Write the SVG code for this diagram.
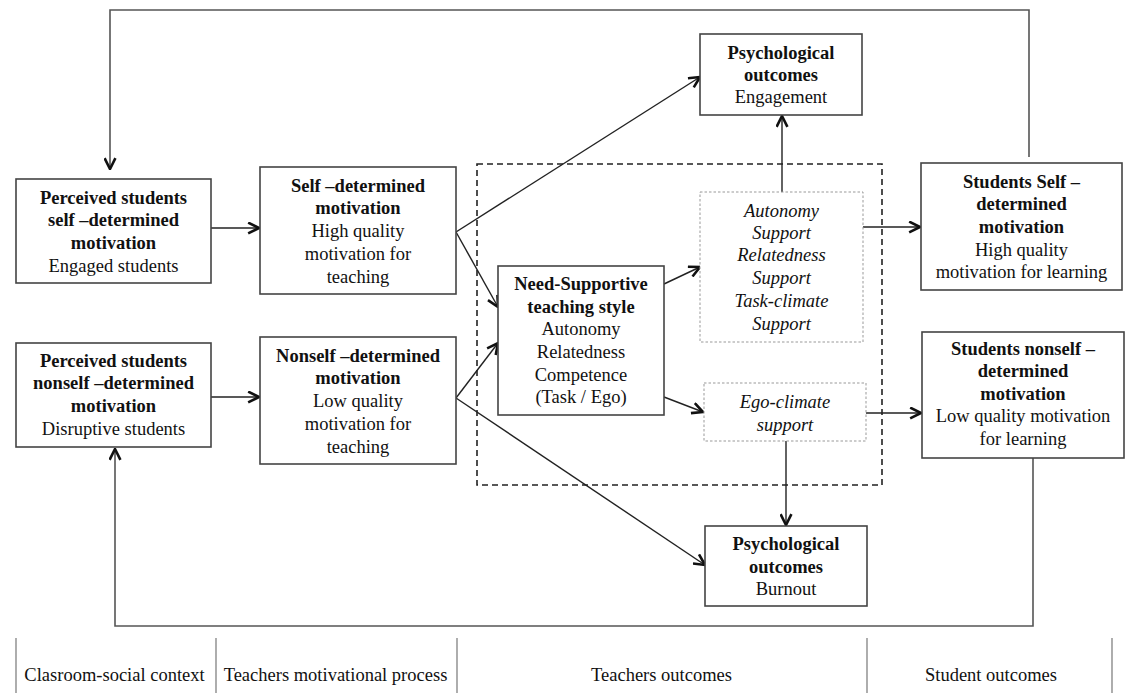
<svg xmlns="http://www.w3.org/2000/svg" width="1125" height="693" viewBox="0 0 1125 693">
<style>
text{font-family:"Liberation Serif","Times New Roman",serif;font-size:18.5px;fill:#111;text-anchor:middle}
.b{font-weight:bold}
.i{font-style:italic}
.box{fill:#fff;stroke:#444;stroke-width:1.6}
.dot{fill:#fff;stroke:#999;stroke-width:1;stroke-dasharray:2.5 2}
.dash{fill:none;stroke:#222;stroke-width:1.6;stroke-dasharray:6 4}
.c{fill:none;stroke:#222;stroke-width:1.4}
.loop{fill:none;stroke:#555;stroke-width:1.6}
.sep{stroke:#777;stroke-width:1.2}
</style>
<defs>
<marker id="ah" viewBox="0 0 12 12" refX="11" refY="6" markerWidth="13" markerHeight="13" markerUnits="userSpaceOnUse" orient="auto">
<path d="M1,1 L11,6 L1,11" fill="none" stroke="#111" stroke-width="2.4" stroke-linejoin="miter"/>
</marker>
</defs>
<rect width="1125" height="693" fill="#fff"/>
<rect class="dash" x="477" y="164" width="405" height="321"/>
<g id="connectors">
<path class="loop" d="M1029,157 V10 H110 V169" marker-end="url(#ah)"/>
<path class="loop" d="M1033,458 V626 H115 V449" marker-end="url(#ah)"/>
<line class="c" x1="211" y1="228" x2="259" y2="228" marker-end="url(#ah)"/>
<line class="c" x1="211" y1="397" x2="259" y2="397" marker-end="url(#ah)"/>
<line class="c" x1="456" y1="232" x2="700" y2="77" marker-end="url(#ah)"/>
<line class="c" x1="456" y1="232" x2="498" y2="307" marker-end="url(#ah)"/>
<line class="c" x1="456" y1="398" x2="498" y2="343" marker-end="url(#ah)"/>
<line class="c" x1="456" y1="398" x2="705" y2="565" marker-end="url(#ah)"/>
<line class="c" x1="664" y1="284" x2="700" y2="267" marker-end="url(#ah)"/>
<line class="c" x1="664" y1="397" x2="703" y2="412" marker-end="url(#ah)"/>
<line class="c" x1="782" y1="192" x2="782" y2="116" marker-end="url(#ah)"/>
<line class="c" x1="786" y1="441" x2="786" y2="525" marker-end="url(#ah)"/>
<line class="c" x1="863" y1="227" x2="920" y2="227" marker-end="url(#ah)"/>
<line class="c" x1="866" y1="413" x2="921" y2="413" marker-end="url(#ah)"/>
</g>
<g id="perceived-self">
<rect class="box" x="16" y="179" width="195" height="104"/>
<text class="b" x="113.5" y="204">Perceived students</text>
<text class="b" x="113.5" y="226">self –determined</text>
<text class="b" x="113.5" y="249">motivation</text>
<text x="113.5" y="272">Engaged students</text>
</g>
<g id="perceived-nonself">
<rect class="box" x="16" y="343" width="195" height="104"/>
<text class="b" x="113.5" y="367">Perceived students</text>
<text class="b" x="113.5" y="389">nonself –determined</text>
<text class="b" x="113.5" y="412">motivation</text>
<text x="113.5" y="435">Disruptive students</text>
</g>
<g id="self-determined">
<rect class="box" x="260" y="167" width="196" height="127"/>
<text class="b" x="358" y="192">Self –determined</text>
<text class="b" x="358" y="214">motivation</text>
<text x="358" y="237">High quality</text>
<text x="358" y="260">motivation for</text>
<text x="358" y="283">teaching</text>
</g>
<g id="nonself-determined">
<rect class="box" x="260" y="337" width="196" height="127"/>
<text class="b" x="358" y="362">Nonself –determined</text>
<text class="b" x="358" y="384">motivation</text>
<text x="358" y="407">Low quality</text>
<text x="358" y="430">motivation for</text>
<text x="358" y="453">teaching</text>
</g>
<g id="need-supportive">
<rect class="box" x="498" y="266" width="166" height="149"/>
<text class="b" x="581" y="290">Need-Supportive</text>
<text class="b" x="581" y="313">teaching style</text>
<text x="581" y="335">Autonomy</text>
<text x="581" y="358">Relatedness</text>
<text x="581" y="381">Competence</text>
<text x="581" y="403">(Task / Ego)</text>
</g>
<g id="support-box">
<rect class="dot" x="700" y="192" width="163" height="150"/>
<text class="i" x="781.5" y="217">Autonomy</text>
<text class="i" x="781.5" y="239">Support</text>
<text class="i" x="781.5" y="261">Relatedness</text>
<text class="i" x="781.5" y="284">Support</text>
<text class="i" x="781.5" y="307">Task-climate</text>
<text class="i" x="781.5" y="330">Support</text>
</g>
<g id="ego-climate">
<rect class="dot" x="704" y="383" width="162" height="58"/>
<text class="i" x="785" y="408">Ego-climate</text>
<text class="i" x="785" y="431">support</text>
</g>
<g id="psych-engagement">
<rect class="box" x="700" y="34" width="162" height="81"/>
<text class="b" x="781" y="59">Psychological</text>
<text class="b" x="781" y="81">outcomes</text>
<text x="781" y="103">Engagement</text>
</g>
<g id="psych-burnout">
<rect class="box" x="705" y="526" width="162" height="80"/>
<text class="b" x="786" y="550">Psychological</text>
<text class="b" x="786" y="573">outcomes</text>
<text x="786" y="595">Burnout</text>
</g>
<g id="students-self">
<rect class="box" x="921" y="163" width="201" height="127"/>
<text class="b" x="1021.5" y="188">Students Self –</text>
<text class="b" x="1021.5" y="210">determined</text>
<text class="b" x="1021.5" y="233">motivation</text>
<text x="1021.5" y="256">High quality</text>
<text x="1021.5" y="278">motivation for learning</text>
</g>
<g id="students-nonself">
<rect class="box" x="922" y="332" width="202" height="126"/>
<text class="b" x="1023" y="355">Students nonself –</text>
<text class="b" x="1023" y="377">determined</text>
<text class="b" x="1023" y="400">motivation</text>
<text x="1023" y="422">Low quality motivation</text>
<text x="1023" y="445">for learning</text>
</g>
<g id="legend">
<line class="sep" x1="16" y1="638" x2="16" y2="693"/>
<line class="sep" x1="216" y1="638" x2="216" y2="693"/>
<line class="sep" x1="457" y1="638" x2="457" y2="693"/>
<line class="sep" x1="867" y1="638" x2="867" y2="693"/>
<line class="sep" x1="1112" y1="638" x2="1112" y2="693"/>
<text x="114.5" y="681">Clasroom-social context</text>
<text x="335.5" y="681">Teachers motivational process</text>
<text x="661.5" y="681">Teachers outcomes</text>
<text x="991" y="681">Student outcomes</text>
</g>
</svg>
